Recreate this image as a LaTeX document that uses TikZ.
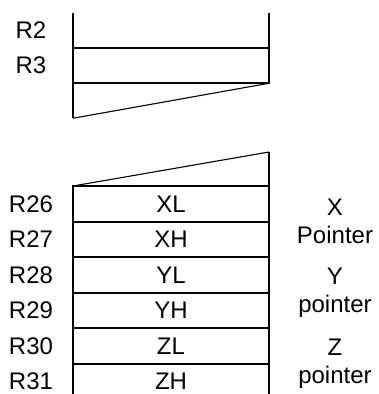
\documentclass[tikz,border=0pt]{standalone}
\usepackage{fontspec}
\setmainfont{Liberation Sans}
\usetikzlibrary{positioning}

\begin{document}
\begin{tikzpicture}[x=1pt, y=-1pt,
  reg/.style={draw, line width=2pt, minimum width=196pt, minimum height=35.5pt,
    inner sep=0pt, outer sep=0pt, font=\fontsize{24}{28}\selectfont},
  regopen/.style={reg, draw=none},
  txt/.style={inner sep=0pt, font=\fontsize{24}{28}\selectfont},
  side/.style={line width=2pt},
  slant/.style={line width=1.1pt}]

  \useasboundingbox (0,0) rectangle (379,394);

  % upper part of the file
  \node[regopen] (r2) at (171,30.5) {};
  \node[reg] (r3) at (171,65.5) {};
  \node[txt] (lab2) at (31,30.5) {R2};
  \node[txt] (lab3) at (31,65.5) {R3};
  \draw[side] (r2.north west) -- (r2.south west) -- (r2.south east) -- (r2.north east);

  \coordinate (cutl) at ([yshift=-35pt] r3.south west);
  \draw[side] (r3.south west) -- (cutl);
  \draw[slant] (cutl) -- (r3.south east);

  % lower part: pointer registers
  \foreach \n/\half/\r/\sty in {0/XL/26/reg, 1/XH/27/reg, 2/YL/28/reg,
                                3/YH/29/reg, 4/ZL/30/reg, 5/ZH/31/regopen} {
    \node[\sty] (row\r) at (171,203.75+35.5*\n) {\half};
    \node[txt] (lab\r) at (31,203.75+35.5*\n) {R\r};
  }
  \draw[side] (row31.south west) -- (row31.north west) -- (row31.north east) -- (row31.south east);

  \coordinate (cutr) at ([yshift=34pt] row26.north east);
  \draw[side] (row26.north east) -- (cutr);
  \draw[slant] (row26.north west) -- (cutr);

  % pointer names
  \node[txt, align=center] (xptr) at (335,221.5) {X\\Pointer};
  \node[txt, align=center] (yptr) at (335,292.5) {Y\\pointer};
  \node[txt, align=center] (zptr) at (335,363.5) {Z\\pointer};

\end{tikzpicture}
\end{document}
